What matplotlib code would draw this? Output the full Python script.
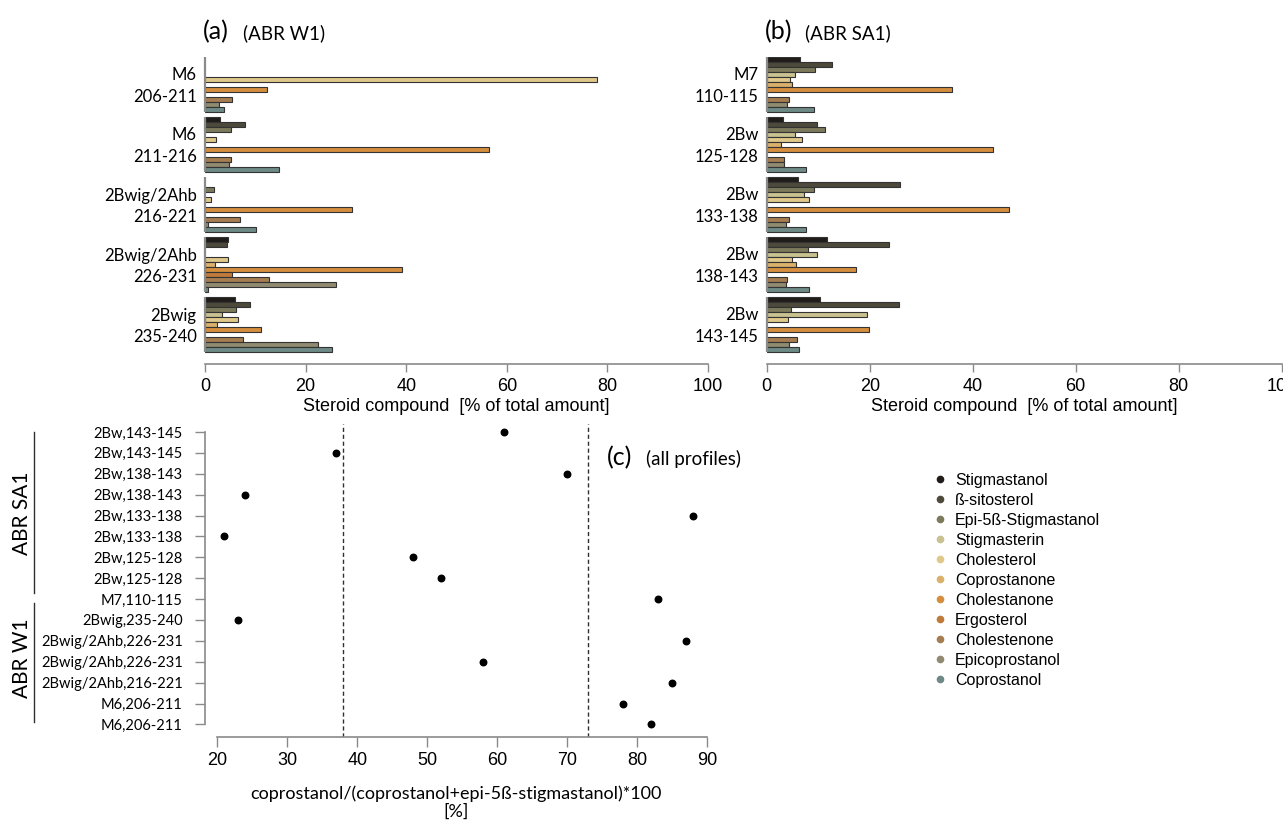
import numpy as np
import matplotlib
matplotlib.use("Agg")
import matplotlib.pyplot as plt
from matplotlib import font_manager
from matplotlib.lines import Line2D

# compounds, top to bottom inside every bar group
compounds = ["Stigmastanol", "ß-sitosterol", "Epi-5ß-Stigmastanol", "Stigmasterin",
             "Cholesterol", "Coprostanone", "Cholestanone", "Ergosterol",
             "Cholestenone", "Epicoprostanol", "Coprostanol"]
colors = ["#201c1a", "#4d4a3c", "#7d7a5c", "#c8c190", "#dfc88a", "#dbb06a",
          "#d58e3e", "#c07a3a", "#a67d50", "#8f8a70", "#6e8a86"]

# (a) ABR W1, % of total amount, one list per sample (compound order as above)
w1_labels = ["M6\n206-211", "M6\n211-216", "2Bwig/2Ahb\n216-221",
             "2Bwig/2Ahb\n226-231", "2Bwig\n235-240"]
w1_m6_206 = [0, 0, 0, 0, 78.0, 0, 12.4, 0, 5.3, 2.8, 3.8]
w1_m6_211 = [2.9, 8.0, 5.1, 0, 2.1, 0, 56.5, 0, 5.1, 4.8, 14.7]
w1_2bwig_216 = [0, 0, 1.8, 0, 1.1, 0, 29.2, 0, 7.0, 0.5, 10.1]
w1_2bwig_226 = [4.6, 4.4, 0, 0, 4.6, 1.9, 39.1, 5.3, 12.8, 26.1, 0.6]
w1_2bwig_235 = [5.9, 9.0, 6.2, 3.3, 6.5, 2.3, 11.2, 0, 7.5, 22.4, 25.3]

# (b) ABR SA1
sa1_labels = ["M7\n110-115", "2Bw\n125-128", "2Bw\n133-138",
              "2Bw\n138-143", "2Bw\n143-145"]
sa1_m7_110 = [6.5, 12.7, 9.3, 5.4, 4.5, 5.0, 36.0, 0, 4.4, 4.0, 9.1]
sa1_2bw_125 = [3.2, 9.8, 11.4, 5.4, 6.9, 2.7, 44.0, 0, 3.3, 3.3, 7.6]
sa1_2bw_133 = [6.0, 25.8, 9.1, 7.3, 8.3, 0, 47.0, 0, 4.4, 3.7, 7.6]
sa1_2bw_138 = [11.8, 23.7, 8.1, 9.8, 5.0, 5.7, 17.3, 0, 4.0, 3.7, 8.3]
sa1_2bw_143 = [10.4, 25.6, 4.7, 19.5, 4.2, 0, 19.8, 0, 5.9, 4.3, 6.3]

# (c) coprostanol/(coprostanol+epi-5ß-stigmastanol)*100, top to bottom
ratio_labels = ["2Bw,143-145", "2Bw,143-145", "2Bw,138-143", "2Bw,138-143",
                "2Bw,133-138", "2Bw,133-138", "2Bw,125-128", "2Bw,125-128",
                "M7,110-115", "2Bwig,235-240", "2Bwig/2Ahb,226-231",
                "2Bwig/2Ahb,226-231", "2Bwig/2Ahb,216-221", "M6,206-211",
                "M6,206-211"]
ratio_values = [61, 37, 70, 24, 88, 21, 48, 52, 83, 23, 87, 58, 85, 78, 82]
thresholds = [38, 73]

W, H = 1283, 825
installed = {f.name for f in font_manager.fontManager.ttflist}
NARROW = "Liberation Sans Narrow" if "Liberation Sans Narrow" in installed else "Liberation Sans"
CAL = "Lato"
ARIAL = "Liberation Sans"
GREY = "#8a8a8a"

fig = plt.figure(figsize=(W / 100, H / 100), dpi=100)


def px_axes(left, top, right, bottom):
    return fig.add_axes([left / W, 1 - bottom / H, (right - left) / W, (bottom - top) / H])


def bar_panel(ax, groups, labels):
    pitch = 12
    n = len(compounds)
    for g, vals in enumerate(groups):
        vals = np.array(vals, dtype=float)
        y = g * pitch + np.arange(n) - (n - 1) / 2
        keep = vals > 0
        ax.barh(y[keep], vals[keep], height=0.82, color=np.array(colors)[keep],
                edgecolor="#333333", linewidth=0.8, zorder=3)
        ax.vlines(0, g * pitch - n / 2, g * pitch + n / 2, color=GREY, lw=1.6,
                  zorder=4, clip_on=False)
    ax.set_xlim(0, 100)
    ax.set_ylim((len(groups) - 1) * pitch + 7.9, -5.5)
    ax.set_yticks(np.arange(len(groups)) * pitch - 0.5)
    ax.set_yticklabels(labels, fontfamily=CAL, fontsize=12, linespacing=1.4)
    ax.tick_params(axis="y", length=0, pad=6)
    ax.set_xticks(np.arange(0, 101, 20))
    ax.tick_params(axis="x", length=6, width=1, color=GREY, pad=4)
    for lab in ax.get_xticklabels():
        lab.set_fontfamily(NARROW)
        lab.set_fontsize(13)
    for s in ("left", "top", "right"):
        ax.spines[s].set_visible(False)
    ax.spines["bottom"].set_color(GREY)
    ax.spines["bottom"].set_linewidth(1.2)
    ax.set_xlabel("Steroid compound  [% of total amount]", fontfamily=NARROW,
                  fontsize=13, labelpad=2)


ax_a = px_axes(205, 57, 708, 364)
bar_panel(ax_a, [w1_m6_206, w1_m6_211, w1_2bwig_216, w1_2bwig_226, w1_2bwig_235], w1_labels)

ax_b = px_axes(766.7, 57, 1281.7, 364)
bar_panel(ax_b, [sa1_m7_110, sa1_2bw_125, sa1_2bw_133, sa1_2bw_138, sa1_2bw_143], sa1_labels)

# panel titles
for x0, x1, big, small in [(203, 243, "(a)", "(ABR W1)"), (765, 805, "(b)", "(ABR SA1)")]:
    fig.text(x0 / W, 1 - 32 / H, big, fontfamily=CAL, fontsize=18, va="center", ha="left")
    fig.text(x1 / W, 1 - 33 / H, small, fontfamily=CAL, fontsize=13.5, va="center", ha="left")
fig.text(607 / W, 1 - 458 / H, "(c)", fontfamily=CAL, fontsize=18, va="center", ha="left")
fig.text(646 / W, 1 - 459 / H, "(all profiles)", fontfamily=CAL, fontsize=13.5, va="center", ha="left")

# (c) ratio panel
ax_c = px_axes(205, 423.6, 707.3, 737)
n = len(ratio_values)
ypos = np.arange(n)[::-1]
ax_c.scatter(ratio_values, ypos, s=22, color="black", zorder=3)
for t in thresholds:
    ax_c.axvline(t, color="#303030", lw=1, ls=(0, (3, 2)), zorder=2)
ax_c.set_xlim(18.24, 90)
ax_c.set_ylim(-0.6, n - 1 + 0.4)
ax_c.set_yticks(ypos)
ax_c.set_yticklabels(ratio_labels, fontfamily=CAL, fontsize=10.5)
ax_c.set_xticks(np.arange(20, 91, 10))
for lab in ax_c.get_xticklabels():
    lab.set_fontfamily(ARIAL)
    lab.set_fontsize(13)
ax_c.tick_params(axis="both", length=7, width=1, color=GREY)
ax_c.tick_params(axis="y", pad=9)
for s in ("top", "right"):
    ax_c.spines[s].set_visible(False)
ax_c.spines["left"].set_bounds(0, n - 1)
ax_c.spines["bottom"].set_bounds(20, 90)
for s in ("left", "bottom"):
    ax_c.spines[s].set_color(GREY)
    ax_c.spines[s].set_linewidth(1.2)
ax_c.set_xlabel("coprostanol/(coprostanol+epi-5ß-stigmastanol)*100\n[%]",
                fontfamily=CAL, fontsize=13, labelpad=12, linespacing=1.15)

# profile brackets
for y0, y1, yc, name in [(432, 593, 513, "ABR SA1"), (603, 722, 658, "ABR W1")]:
    fig.add_artist(Line2D([34 / W, 34 / W], [1 - y0 / H, 1 - y1 / H], color="#303030", lw=1))
    fig.text(22 / W, 1 - yc / H, name, rotation=90, fontfamily=CAL, fontsize=15,
             ha="center", va="center")

# legend
handles = [Line2D([], [], ls="none", marker="o", markersize=4.5, color=c) for c in colors]
fig.legend(handles, compounds, loc="upper left", bbox_to_anchor=(932 / W, 1 - 473 / H),
           frameon=False, prop={"family": ARIAL, "size": 11.5}, handlelength=1.0,
           handletextpad=0.45, labelspacing=0.31, borderpad=0, borderaxespad=0)

fig.savefig("out.png", dpi=100)
